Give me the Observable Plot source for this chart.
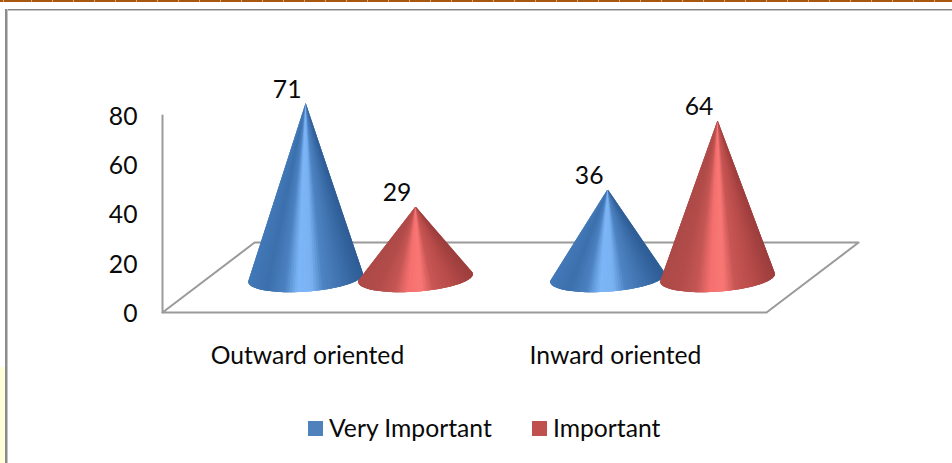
<!DOCTYPE html>
<html>
<head>
<meta charset="utf-8">
<script src="https://cdn.jsdelivr.net/npm/d3@7"></script>
<script src="https://cdn.jsdelivr.net/npm/@observablehq/plot@0.6"></script>
<style>
  html, body { margin: 0; padding: 0; background: #fff; overflow: hidden; }
  body { position: relative; width: 952px; height: 463px; font-family: Lato, "Liberation Sans", sans-serif; color: #0a0a0a; }
  #chart svg { display: block; }
  #chart { position: absolute; left: 0; top: 0; }
  .rule-top { position: absolute; left: 0; top: 0; width: 952px; height: 2px;
    background: repeating-linear-gradient(90deg, #a9560e 0 20px, #d9a878 20px 21px); background-position: 11px 0; }
  .frame-top { position: absolute; left: 5px; top: 9px; width: 947px; height: 1px; background: #858585; border-bottom: 1px solid #c4c4c4; }
  .frame-left { position: absolute; left: 5px; top: 9px; width: 2px; height: 454px; background: #8c8c8c; border-right: 1px solid #c4c4c4; }
  .page-tint { position: absolute; left: 0; top: 367px; width: 5px; height: 96px; background: #ffffd8; }
  .legend { position: absolute; top: 413px; left: 0; height: 30px; line-height: 30px; font-size: 24.7px; white-space: nowrap; }
  .legend span { position: absolute; top: 0; }
  .legend i { position: absolute; top: 8px; width: 15px; height: 15px; }
</style>
</head>
<body>
<div class="page-tint"></div>
<div class="rule-top"></div>
<div class="frame-top"></div>
<div class="frame-left"></div>
<div id="chart"></div>
<div class="legend">
  <i style="left:308px;background:#4f81bd"></i><span style="left:329px" id="s0"></span>
  <i style="left:532px;background:#c0504d"></i><span style="left:553px" id="s1"></span>
</div>
<script>
const categories = ["Outward oriented", "Inward oriented"];
const seriesNames = ["Very Important", "Important"];
const veryImportant = [71, 36];
const important = [29, 64];
const yTicks = [0, 20, 40, 60, 80];
const categoryTicks = [0.48, 1.5];

// Oblique projection of the chart floor: a point at depth d moves right and up.
const slantX = 0.305, riseY = 28.4;
const project = (x, y, d) => [x + slantX * d, y + riseY * d];

// Cone base ellipse, in scale units.
const baseDepth = 0.495, radiusX = 0.19, radiusY = 5.6, tiltY = 1.6, seriesGap = 0.182;
const groupCenter = i => i + 0.505;

// Shading across the base, from its left end to its right end.
const shadeStops = [0, 0.2, 0.36, 0.48, 0.6, 0.7, 0.85, 1];
const blueRamp = d3.scaleLinear()
  .domain(shadeStops)
  .range(["#4379b8", "#3c70ad", "#4b81c0", "#7db6f8", "#7ab2f2", "#4e84c3", "#3f72ae", "#2f5e97"]);
const redRamp = d3.scaleLinear()
  .domain(shadeStops)
  .range(["#ad4a48", "#b24c4a", "#c45654", "#f4706e", "#f97876", "#c85654", "#b84c4a", "#9e3f3e"]);

// Each cone is a fan of thin facets from its apex to the front of the base.
// Facets overlap their neighbours so no seams show between them.
const facets = [];
const steps = 70;
[veryImportant, important].forEach((values, s) => {
  values.forEach((value, i) => {
    const ramp = s === 0 ? blueRamp : redRamp;
    const cx = groupCenter(i) + (s === 0 ? -seriesGap : seriesGap);
    const [px, py] = project(cx, 0, baseDepth);
    const rim = t => [px + radiusX * Math.cos(t), py + tiltY * Math.cos(t) - radiusY * Math.sin(t)];
    const angle = k => -0.12 + (Math.PI + 0.24) * Math.min(k, steps) / steps;
    // Painted from the left end of the base to the right end.
    for (let k = steps - 1; k >= 0; k--) {
      const a = rim(angle(k)), b = rim(angle(k + 1)), c = rim(angle(k + 3));
      const id = `${s}-${i}-${k}`;
      const color = ramp((1 + Math.cos((angle(k) + angle(k + 1)) / 2)) / 2);
      facets.push({id, color, x: px, y: py + value});
      facets.push({id, color, x: a[0], y: a[1]});
      facets.push({id, color, x: b[0], y: b[1]});
      facets.push({id, color, x: c[0], y: c[1]});
    }
  });
});

const apexes = [veryImportant, important].flatMap((values, s) => values.map((value, i) => {
  const cx = groupCenter(i) + (s === 0 ? -seriesGap : seriesGap);
  const [px, py] = project(cx, 0, baseDepth);
  return {x: px, y: py + value, value};
}));

const floor = [[0, 0, 0], [2, 0, 0], [2, 0, 1], [0, 0, 1], [0, 0, 0]]
  .map(([x, y, d]) => project(x, y, d));

const chart = Plot.plot({
  width: 952,
  height: 405,
  marginLeft: 162,
  marginRight: 186,
  marginTop: 115,
  marginBottom: 93,
  x: {domain: [0, 2], axis: null},
  y: {domain: [0, 80], axis: null},
  color: {type: "identity"},
  style: {background: "transparent", fontFamily: "Lato, 'Liberation Sans', sans-serif", color: "#0a0a0a"},
  marks: [
    Plot.line(floor, {x: d => d[0], y: d => d[1], stroke: "#9a9a9a", strokeWidth: 2}),
    Plot.line([[0, 0], [0, 80]], {x: d => d[0], y: d => d[1], stroke: "#9a9a9a", strokeWidth: 2}),
    Plot.line(facets, {
      x: "x", y: "y", z: "id",
      fill: "color", stroke: "none",
      curve: "linear-closed"
    }),
    Plot.text(apexes, {
      x: "x", y: "y", text: d => String(d.value),
      dx: -18.5, dy: -13, fontSize: 24.7, fill: "#0a0a0a"
    }),
    Plot.axisY({
      ticks: yTicks, tickSize: 0, tickPadding: 25, fontSize: 24.7, dy: 1.5,
      tickFormat: d => String(d), label: null, fill: "#0a0a0a"
    }),
    Plot.axisX({
      ticks: categoryTicks, tickSize: 0, tickPadding: 34, fontSize: 24.7,
      tickFormat: (d, i) => categories[i], label: null, fill: "#0a0a0a"
    })
  ]
});
document.getElementById("chart").append(chart);
seriesNames.forEach((name, i) => { document.getElementById("s" + i).textContent = name; });
</script>
</body>
</html>
